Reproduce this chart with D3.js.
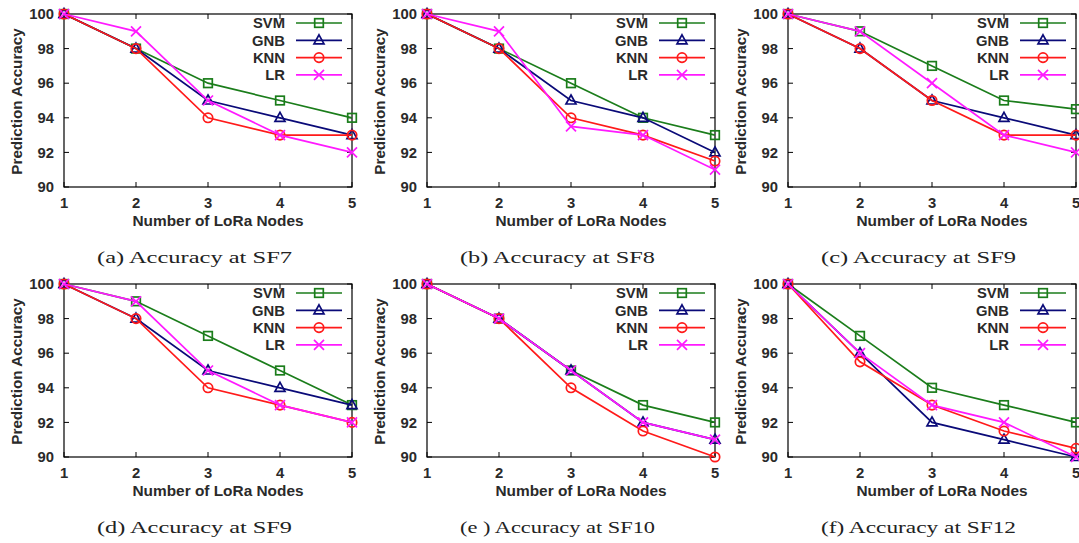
<!doctype html>
<html lang="en">

<head>
    <meta charset="utf-8">
    <title>d3 - prediction accuracy panels</title>
    <script src="https://cdn.jsdelivr.net/npm/d3@7"></script>
    <style>
        body { margin: 0; background: #fff; }
        svg { display: block; }
        .tick-label, .axis-title, .legend-label {
            font-family: "Liberation Sans", Arial, sans-serif;
            font-weight: bold;
            fill: #2a2a2a;
        }
        .caption {
            font-family: "Liberation Serif", "Times New Roman", serif;
            fill: #222;
        }
    </style>
</head>

<body>
    <svg></svg>
    <script>
        var width = 1079;
        var height = 543;

        var nodes = [1, 2, 3, 4, 5];
        var yTicks = [90, 92, 94, 96, 98, 100];
        var seriesNames = ['SVM', 'GNB', 'KNN', 'LR'];
        var seriesColors = ['#1b7d1b', '#0a0a78', '#ff1a1a', '#ff1aff'];
        var markers = ['square', 'triangle', 'circle', 'cross'];
        var captions = ['(a) Accuracy at SF7', '(b) Accuracy at SF8', '(c) Accuracy at SF9',
            '(d) Accuracy at SF9', '(e ) Accuracy at SF10', '(f) Accuracy at SF12'];

        // values per panel, in order SVM, GNB, KNN, LR
        var sf7 = [
            [100, 98, 96, 95, 94],
            [100, 98, 95, 94, 93],
            [100, 98, 94, 93, 93],
            [100, 99, 95, 93, 92]
        ];
        var sf8 = [
            [100, 98, 96, 94, 93],
            [100, 98, 95, 94, 92],
            [100, 98, 94, 93, 91.5],
            [100, 99, 93.5, 93, 91]
        ];
        var sf9a = [
            [100, 99, 97, 95, 94.5],
            [100, 98, 95, 94, 93],
            [100, 98, 95, 93, 93],
            [100, 99, 96, 93, 92]
        ];
        var sf9b = [
            [100, 99, 97, 95, 93],
            [100, 98, 95, 94, 93],
            [100, 98, 94, 93, 92],
            [100, 99, 95, 93, 92]
        ];
        var sf10 = [
            [100, 98, 95, 93, 92],
            [100, 98, 95, 92, 91],
            [100, 98, 94, 91.5, 90],
            [100, 98, 95, 92, 91]
        ];
        var sf12 = [
            [100, 97, 94, 93, 92],
            [100, 96, 92, 91, 90],
            [100, 95.5, 93, 91.5, 90.5],
            [100, 96, 93, 92, 90]
        ];
        var panelData = [sf7, sf8, sf9a, sf9b, sf10, sf12];

        var panelLeft = [64, 427, 788];
        var panelTop = [14, 284];
        var plotW = 288;
        var plotH = 173;

        var svg = d3.select('svg').attr('width', width).attr('height', height);

        function drawMarker(g, type, x, y, color) {
            if (type === 'square') {
                g.append('rect').attr('x', x - 4.3).attr('y', y - 4.3)
                    .attr('width', 8.6).attr('height', 8.6)
                    .attr('fill', 'none').attr('stroke', color).attr('stroke-width', 1.7);
            } else if (type === 'triangle') {
                g.append('path')
                    .attr('d', 'M' + x + ',' + (y - 5.5) + 'L' + (x + 5) + ',' + (y + 3.5) + 'L' + (x - 5) + ',' + (y + 3.5) + 'Z')
                    .attr('fill', 'none').attr('stroke', color).attr('stroke-width', 1.7);
            } else if (type === 'circle') {
                g.append('circle').attr('cx', x).attr('cy', y).attr('r', 4.7)
                    .attr('fill', 'none').attr('stroke', color).attr('stroke-width', 1.7);
            } else {
                g.append('path')
                    .attr('d', 'M' + (x - 5) + ',' + (y - 5) + 'L' + (x + 5) + ',' + (y + 5) +
                        'M' + (x - 5) + ',' + (y + 5) + 'L' + (x + 5) + ',' + (y - 5))
                    .attr('stroke', color).attr('stroke-width', 1.7);
            }
        }

        panelData.forEach(function (data, p) {
            var x0 = panelLeft[p % 3];
            var y0 = panelTop[Math.floor(p / 3)];

            var xScale = d3.scaleLinear().domain([1, 5]).range([x0, x0 + plotW]);
            var yScale = d3.scaleLinear().domain([90, 100]).range([y0 + plotH, y0]);

            var g = svg.append('g');

            // y ticks (inward, mirrored) and labels
            yTicks.forEach(function (t) {
                var y = yScale(t);
                g.append('line').attr('x1', x0).attr('x2', x0 + 5).attr('y1', y).attr('y2', y)
                    .attr('stroke', '#000').attr('stroke-width', 1);
                g.append('line').attr('x1', x0 + plotW - 5).attr('x2', x0 + plotW).attr('y1', y).attr('y2', y)
                    .attr('stroke', '#000').attr('stroke-width', 1);
                g.append('text').attr('class', 'tick-label')
                    .attr('x', x0 - 10).attr('y', y + 5.2)
                    .attr('text-anchor', 'end').attr('font-size', '14.8px')
                    .text(t);
            });

            // x ticks and labels
            nodes.forEach(function (n) {
                var x = xScale(n);
                g.append('line').attr('x1', x).attr('x2', x).attr('y1', y0 + plotH).attr('y2', y0 + plotH - 5)
                    .attr('stroke', '#000').attr('stroke-width', 1);
                g.append('line').attr('x1', x).attr('x2', x).attr('y1', y0).attr('y2', y0 + 5)
                    .attr('stroke', '#000').attr('stroke-width', 1);
                g.append('text').attr('class', 'tick-label')
                    .attr('x', x).attr('y', y0 + plotH + 21)
                    .attr('text-anchor', 'middle').attr('font-size', '14.8px')
                    .text(n);
            });

            // frame
            g.append('rect').attr('x', x0).attr('y', y0).attr('width', plotW).attr('height', plotH)
                .attr('fill', 'none').attr('stroke', '#000').attr('stroke-width', 1.2);

            // axis titles
            g.append('text').attr('class', 'axis-title')
                .attr('x', x0 + plotW / 2 + 10).attr('y', y0 + plotH + 39)
                .attr('text-anchor', 'middle').attr('font-size', '15.4px')
                .text('Number of LoRa Nodes');
            g.append('text').attr('class', 'axis-title')
                .attr('transform', 'translate(' + (x0 - 42) + ',' + (y0 + plotH / 2 + 1) + ') rotate(-90)')
                .attr('text-anchor', 'middle').attr('font-size', '15.2px')
                .text('Prediction Accuracy');

            // series
            var line = d3.line()
                .x(function (d, i) { return xScale(nodes[i]); })
                .y(function (d) { return yScale(d); });

            data.forEach(function (vals, s) {
                g.append('path').datum(vals)
                    .attr('d', line)
                    .attr('fill', 'none')
                    .attr('stroke', seriesColors[s])
                    .attr('stroke-width', 1.7);
                vals.forEach(function (v, i) {
                    drawMarker(g, markers[s], xScale(nodes[i]), yScale(v), seriesColors[s]);
                });
            });

            // legend
            seriesNames.forEach(function (name, s) {
                var ly = y0 + 9 + s * 17.3;
                g.append('text').attr('class', 'legend-label')
                    .attr('x', x0 + plotW - 67).attr('y', ly + 5.2)
                    .attr('text-anchor', 'end').attr('font-size', '14.8px')
                    .text(name);
                g.append('line').attr('x1', x0 + plotW - 56).attr('x2', x0 + plotW - 10)
                    .attr('y1', ly).attr('y2', ly)
                    .attr('stroke', seriesColors[s]).attr('stroke-width', 1.7);
                drawMarker(g, markers[s], x0 + plotW - 33, ly, seriesColors[s]);
            });

            // caption
            g.append('text').attr('class', 'caption')
                .attr('x', x0 + 130.5).attr('y', y0 + plotH + 76)
                .attr('text-anchor', 'middle').attr('font-size', '16px')
                .attr('textLength', 195).attr('lengthAdjust', 'spacingAndGlyphs')
                .text(captions[p]);
        });
    </script>

</body>

</html>
